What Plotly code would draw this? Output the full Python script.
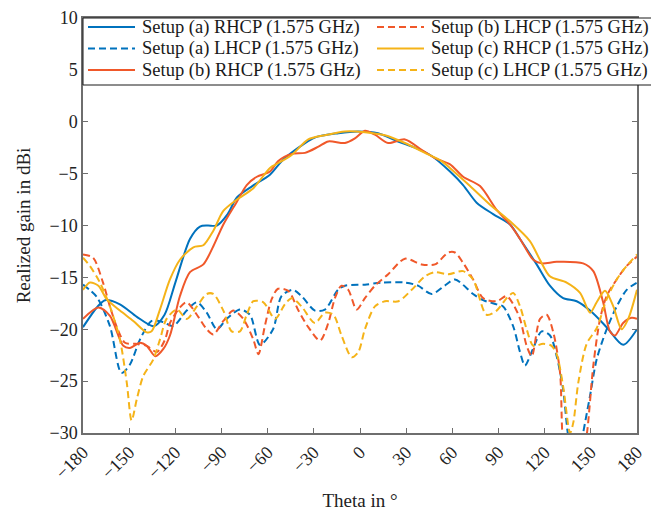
import plotly.graph_objects as go

# ---------------- data (theta in degrees, realized gain in dBi) ----------------
theta_a_rhcp = [-180, -171, -165.7, -156, -145, -134, -127, -120, -110.5, -104, -99, -93, -86, -80, -70, -58.5,
                -50.9, -40, -29, -14, -1.3, 11.7, 24.7, 35.7, 46.6, 58.5, 67, 75.8, 86.5, 97.5, 104, 114.8,
                123.4, 132, 140.8, 149.5, 160.3, 171, 180]
gain_a_rhcp = [-19.8, -17.9, -17.2, -17.6, -18.8, -19.7, -18.6, -15.5, -11.3, -10.1, -10.0, -10.0, -8.9, -7.3, -6.2, -5.1,
               -3.8, -2.5, -1.5, -1.1, -0.93, -1.1, -1.9, -2.5, -3.3, -4.8, -6.1, -7.8, -8.9, -9.9, -11.3, -13.75,
               -15.8, -17.0, -17.3, -18.2, -19.8, -21.5, -20.0]

theta_a_lhcp = [-180, -171, -162.5, -155, -149.5, -143, -135.4, -128, -121.5, -112.6, -106, -99.6, -93, -86.6,
                -78, -71.5, -65, -56.5, -51, -43.5, -38, -29.3, -22.8, -14.3, -9.8, 3.2, 14, 29.2, 37.7, 46.6,
                55, 61.7, 73.5, 80, 88.8, 93, 99.5, 104, 107.2, 112.4, 118, 123.5, 127.8, 132, 135, 138, 142,
                145, 149.5, 153.8, 160.3, 166.8, 173.3, 180]
gain_a_lhcp = [-15.7, -16.9, -19.7, -24.2, -23.4, -21.0, -19.2, -19.3, -19.7, -18.2, -17.4, -18.4, -20.0, -19.0,
               -18.1, -18.6, -21.5, -20.0, -16.8, -16.2, -16.8, -18.2, -18.1, -16.2, -15.8, -15.7, -15.5, -15.5, -15.8, -16.6,
               -15.8, -15.2, -16.6, -17.2, -17.6, -17.8, -19.7, -22.2, -23.5, -21.9, -20.2, -20.6, -22.6, -25.8, -30.0, -32.5, -32.5,
               -30.0, -26.4, -22.9, -20.0, -17.8, -16.2, -15.5]

theta_b_rhcp = [-180, -170, -162.5, -153.8, -149.5, -143, -138.6, -133, -127.8, -123.5, -117, -110.5, -101.8, -95.3,
                -88.8, -80, -73.6, -67, -58.5, -53.3, -44.4, -35.7, -27, -20.6, -9.8, -3.3, 3.2, 9.7, 18.3, 29.2,
                40, 48.7, 58.5, 67, 78, 88.8, 97.5, 104, 112.6, 118, 127.8, 145, 151.6, 158, 162.4, 165.7, 171,
                176.5, 180]
gain_b_rhcp = [-19.0, -17.9, -18.7, -21.6, -21.8, -21.3, -21.6, -22.6, -21.9, -20.6, -16.8, -14.5, -13.75, -12.0,
               -9.9, -7.7, -6.1, -5.3, -4.8, -3.8, -3.1, -3.0, -2.4, -1.9, -2.05, -1.6, -0.87, -1.25, -2.05, -1.7,
               -2.7, -3.5, -4.1, -5.3, -6.2, -8.5, -9.9, -11.3, -13.3, -13.65, -13.5, -13.65, -14.4, -17.4, -20.2, -20.6, -19.4,
               -18.9, -19.0]

theta_b_lhcp = [-180, -173.5, -167, -162.5, -158, -152.7, -146, -138.6, -132, -126.7, -123.5, -117, -112.6, -106,
                -99.6, -95.3, -88.8, -82.3, -75.8, -69.3, -66, -61.7, -57.4, -53.3, -46.6, -40, -33.6, -26, -20.6,
                -16.3, -12, -7.6, -2.2, 3.2, 9.7, 18.3, 29.2, 40, 48.7, 57.4, 61.7, 67, 73.5, 80, 88.8, 95.3,
                99.6, 104, 108.3, 111.6, 117, 121.3, 125.6, 130, 131.5, 134, 139, 144, 147.5, 151.6, 156, 160.3, 166.8,
                173.3, 180]
gain_b_lhcp = [-12.8, -13.1, -15.5, -17.8, -19.8, -21.3, -21.4, -21.6, -22.2, -21.0, -19.4, -17.9, -17.4, -18.6,
               -20.0, -20.5, -19.2, -18.2, -19.0, -21.0, -22.4, -19.6, -17.1, -16.1, -16.3, -18.2, -19.8, -21.1, -19.4,
               -17.0, -15.8, -16.2, -18.1, -17.0, -15.8, -14.7, -13.2, -13.75, -13.75, -12.6, -12.6, -13.6, -15.2, -17.0, -17.3, -16.8,
               -17.6, -19.0, -21.6, -22.6, -19.0, -18.6, -20.3, -24.2, -30.0, -33.0, -34.0, -33.0, -30.0, -23.5, -19.0, -16.8, -15.2,
               -13.9, -13.0]

theta_c_rhcp = [-180, -175.5, -170, -164.6, -156, -147.3, -138.6, -135.4, -130, -123.5, -117, -108.3, -101.8, -95.3,
                -88.8, -80, -69.3, -58.5, -53.3, -44.4, -33.6, -22.8, -9.8, 3.2, 16.2, 29.2, 42.2, 53, 61.7, 71.5,
                84.5, 97.5, 110.4, 116.9, 123.4, 134.3, 143, 149.5, 153.8, 159.2, 164.6, 170, 174.3, 180]
gain_c_rhcp = [-16.2, -15.5, -15.8, -17.1, -18.2, -19.2, -20.3, -20.2, -18.1, -15.2, -13.3, -12.1, -11.9, -10.5,
               -8.6, -7.5, -6.4, -4.45, -4.0, -3.2, -1.7, -1.3, -0.93, -1.0, -1.3, -2.05, -3.0, -3.8, -4.9, -6.2,
               -8.0, -9.6, -11.5, -13.3, -14.9, -15.5, -16.5, -18.4, -17.4, -16.3, -17.8, -20.0, -19.0, -16.2]

theta_c_lhcp = [-180, -175.5, -169, -162.5, -156, -151.6, -148.4, -145, -140.8, -134.3, -130, -125.7, -119, -112.6,
                -106, -99.6, -95.3, -88.8, -83.4, -78, -73.6, -69.3, -62.8, -55.2, -48.8, -44.4, -38, -29.3, -22.8,
                -17.3, -12, -5.4, -1.1, 3.2, 9.7, 16.2, 25, 33.6, 42.2, 48.7, 57.4, 67, 73.5, 82.2, 88.8, 95.3,
                99.6, 104, 108.3, 112.6, 119, 124.5, 127.8, 132, 136.5, 138.6, 141.9, 147.3, 153.8, 160.3, 166.8,
                173.3, 180]
gain_c_lhcp = [-13.1, -13.9, -15.5, -17.8, -21.0, -25.1, -28.8, -26.7, -24.5, -22.9, -21.0, -19.0, -18.1, -19.0,
               -17.8, -16.6, -16.6, -18.2, -20.2, -20.2, -18.6, -17.3, -17.4, -19.0, -17.6, -17.0, -17.8, -19.4, -18.4,
               -18.6, -20.6, -22.7, -22.2, -20.0, -17.8, -17.3, -17.3, -16.2, -14.9, -14.5, -14.7, -14.4, -15.2, -18.6, -18.2, -17.0,
               -16.5, -17.8, -20.0, -21.6, -21.4, -21.6, -22.4, -25.5, -30.0, -29.0, -25.1, -21.4, -19.9, -17.1, -15.2,
               -13.9, -12.8]

x_ticks = [-180, -150, -120, -90, -60, -30, 0, 30, 60, 90, 120, 150, 180]
y_ticks = [-30, -25, -20, -15, -10, -5, 0, 5, 10]

BLUE = "#0072BD"
RED = "#F0582A"
YELLOW = "#F5B318"
DASH = "7px,4px"
FONT = "Liberation Serif"

# legend order: column 1 then column 2 (as in the original)
series = [
    ("Setup (a) RHCP (1.575 GHz)", theta_a_rhcp, gain_a_rhcp, BLUE, "solid"),
    ("Setup (a) LHCP (1.575 GHz)", theta_a_lhcp, gain_a_lhcp, BLUE, DASH),
    ("Setup (b) RHCP (1.575 GHz)", theta_b_rhcp, gain_b_rhcp, RED, "solid"),
    ("Setup (b) LHCP (1.575 GHz)", theta_b_lhcp, gain_b_lhcp, RED, DASH),
    ("Setup (c) RHCP (1.575 GHz)", theta_c_rhcp, gain_c_rhcp, YELLOW, "solid"),
    ("Setup (c) LHCP (1.575 GHz)", theta_c_lhcp, gain_c_lhcp, YELLOW, DASH),
]

fig = go.Figure()
for name, xs, ys, col, dash in series:
    fig.add_trace(go.Scatter(
        x=xs, y=ys, name=name, mode="lines", showlegend=False,
        line=dict(color=col, width=2, dash=dash, shape="spline", smoothing=0.8),
    ))

# ---- legend box drawn in paper coordinates (2 columns x 3 rows) ----
W, H = 651, 511
ML, MR, MT, MB = 83, 14, 18, 78
PW, PH = W - ML - MR, H - MT - MB


def px_x(p):
    return (p - ML) / PW


def px_y(p):
    return (H - MB - p) / PH


shapes = [dict(type="rect", xref="paper", yref="paper", layer="above",
               x0=0, x1=px_x(W + 10), y0=px_y(85), y1=1,
               fillcolor="white", line=dict(color="#1a1a1a", width=1))]
annotations = []
col_x = [88, 377]
row_y = [27, 48.5, 70]
for i, (name, xs, ys, col, dash) in enumerate(series):
    c, r = divmod(i, 3)
    x0 = col_x[c]
    y = row_y[r]
    shapes.append(dict(type="line", xref="paper", yref="paper", layer="above",
                       x0=px_x(x0), x1=px_x(x0 + 47), y0=px_y(y), y1=px_y(y),
                       line=dict(color=col, width=2.2, dash=dash)))
    annotations.append(dict(xref="paper", yref="paper", x=px_x(x0 + 52), y=px_y(y),
                            xanchor="left", yanchor="middle", showarrow=False, text=name,
                            font=dict(family=FONT, size=18.5, color="#1a1a1a")))

axis_common = dict(
    showgrid=False, zeroline=False, showline=True, linecolor="#6e6e6e", linewidth=1.5,
    mirror="ticks", ticks="inside", ticklen=5, tickwidth=1.2, tickcolor="#6e6e6e",
    tickfont=dict(family=FONT, size=18, color="#222"), automargin=False,
)

fig.update_layout(
    width=W, height=H,
    margin=dict(l=ML, r=MR, t=MT, b=MB, autoexpand=False),
    paper_bgcolor="white", plot_bgcolor="white",
    font=dict(family=FONT, size=17, color="#222"),
    xaxis=dict(range=[-180, 180], tickvals=x_ticks, tickangle=-45,
               title=dict(text="Theta in °", font=dict(family=FONT, size=19), standoff=18),
               **axis_common),
    yaxis=dict(range=[-30, 10], tickvals=y_ticks,
               title=dict(text="Realized gain in dBi", font=dict(family=FONT, size=19), standoff=14),
               **axis_common),
    shapes=shapes,
    annotations=annotations,
    showlegend=False,
)

fig.write_html("out.html")
